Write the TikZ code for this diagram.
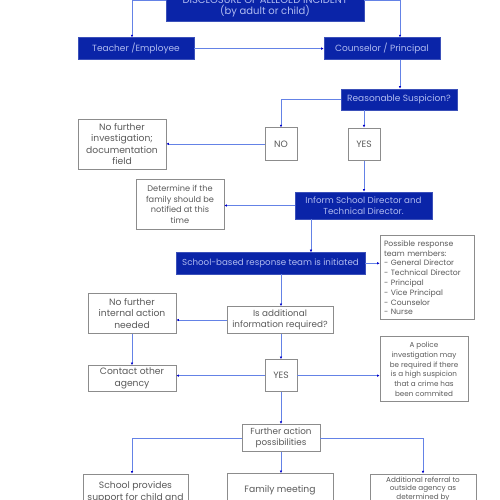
\documentclass[tikz,border=0pt]{standalone}
\usepackage{fontspec}
\setmainfont{Poppins}
\usetikzlibrary{arrows.meta,calc}
\definecolor{fillblue}{HTML}{0A24A8}
\definecolor{txtblue}{HTML}{B0BBF0}
\definecolor{linkblue}{HTML}{6482E6}
\definecolor{grayline}{HTML}{8C8C8C}
\definecolor{graytxt}{HTML}{5A5A5A}
\tikzset{
  bbox/.style={draw=fillblue!80!white, fill=fillblue, text=txtblue, font=\fontsize{9}{11}\selectfont, align=center, inner sep=1pt, line width=0.6pt},
  gbox/.style={draw=grayline, fill=white, text=graytxt, font=\fontsize{9.2}{11.6}\selectfont, align=center, inner sep=1pt, line width=0.7pt},
  sbox/.style={gbox, font=\fontsize{8.2}{10.6}\selectfont},
  mbox/.style={gbox, font=\fontsize{7.7}{9.8}\selectfont},
  tbox/.style={gbox, font=\fontsize{7.2}{9.8}\selectfont},
  conn/.style={draw=linkblue, line width=0.6pt, -{Latex[length=2.6pt,width=2.6pt,color=blue!80!black]}},
}
\begin{document}
\begin{tikzpicture}[x=1pt,y=-1pt]
\useasboundingbox (0,0) rectangle (500,500);
\fill[white] (0,0) rectangle (500,500);
\clip (0,0) rectangle (500,500);
% nodes
\node[bbox, minimum width=198, minimum height=30, font=\fontsize{10}{11.5}\selectfont] (top) at (265,6.6) {DISCLOSURE OF ALLEGED INCIDENT\\(by adult or child)};
\node[bbox, minimum width=116, minimum height=21.8] (teacher) at (136,48.6) {Teacher /Employee};
\node[bbox, minimum width=116, minimum height=21.8] (couns) at (382,48.6) {Counselor / Principal};
\node[bbox, minimum width=116, minimum height=21] (rs) at (399,99.5) {Reasonable Suspicion?};
\node[gbox, minimum width=32, minimum height=32.3] (no1) at (281,143.9) {NO};
\node[gbox, minimum width=32, minimum height=32.3] (yes1) at (364,144) {YES};
\node[gbox, minimum width=88, minimum height=50] (nfi) at (122,144) {No further\\investigation;\\documentation\\field};
\node[bbox, minimum width=137, minimum height=27, font=\fontsize{8.7}{10.6}\selectfont] (inform) at (363.5,205.5) {Inform School Director and\\Technical Director.};
\node[sbox, minimum width=88, minimum height=49.5] (det) at (180,204.3) {Determine if the\\family should be\\notified at this\\time};
\node[bbox, minimum width=189, minimum height=21.5, font=\fontsize{8.7}{10.6}\selectfont] (sbr) at (270.5,263.3) {School-based response team is initiated};
\node[mbox, minimum width=94, minimum height=84, align=left, text width=86] (poss) at (427,277.7) {Possible response\\team members:\\- General Director\\- Technical Director\\- Principal\\- Vice Principal\\- Counselor\\- Nurse};
\node[gbox, minimum width=106, minimum height=27, font=\fontsize{8.8}{11}\selectfont] (isadd) at (280,320) {Is additional\\information required?};
\node[gbox, minimum width=88, minimum height=40.5] (nfin) at (132,313.3) {No further\\internal action\\needed};
\node[gbox, minimum width=88, minimum height=26.2] (contact) at (132,378.6) {Contact other\\agency};
\node[gbox, minimum width=32, minimum height=32.2] (yes2) at (281,375.6) {YES};
\node[tbox, minimum width=88, minimum height=65] (police) at (424,369.2) {A police\\investigation may\\be required if there\\is a high suspicion\\that a crime has\\been commited};
\node[gbox, minimum width=78, minimum height=27.4, font=\fontsize{8.8}{11}\selectfont] (fa) at (281,438) {Further action\\possibilities};
\node[gbox, minimum width=105, minimum height=46] (sp) at (135.5,497) {School provides\\support for child and\\\mbox{}};
\node[gbox, minimum width=106, minimum height=33] (fm) at (280,490) {Family meeting};
\node[tbox, minimum width=106, minimum height=46, anchor=north, font=\fontsize{7.2}{8.8}\selectfont] (ar) at (423,473.5) {Additional referral to\\outside agency as\\determined by\\\mbox{}\\\mbox{}};
% helper coordinates
\coordinate (xl) at (132,0);
\coordinate (xr) at (400,0);
\coordinate (xm) at (311,0);
\coordinate (xsp) at (132,0);
\coordinate (xar) at (423,0);
% connectors
\draw[conn] ([yshift=6.6pt]top.west) -| (teacher.north -| xl);
\draw[conn] ([yshift=6.6pt]top.east) -| (couns.north -| xr);
\draw[conn] (teacher.east) -- (couns.west);
\draw[conn] (couns.south -| xr) -- (rs.north -| xr);
\draw[conn] (rs.west) -| (no1.north);
\draw[conn] (rs.south -| yes1.north) -- (yes1.north);
\draw[conn] (no1.west) -- (no1.west -| nfi.east);
\draw[conn] (yes1.south) -- (yes1.south |- inform.north);
\draw[conn] (inform.west) -- (inform.west -| det.east);
\draw[conn] (inform.south -| xm) -- (sbr.north -| xm);
\draw[conn] (sbr.east) -- (sbr.east -| poss.west);
\draw[conn] (sbr.south -| yes2.north) -- (isadd.north -| yes2.north);
\draw[conn] (isadd.west) -- (isadd.west -| nfin.east);
\draw[conn] (nfin.south) -- (contact.north);
\draw[conn] (isadd.south -| yes2.north) -- (yes2.north);
\draw[conn] (yes2.west) -- (yes2.west -| contact.east);
\draw[conn] (yes2.east) -- (yes2.east -| police.west);
\draw[conn] (yes2.south) -- (fa.north);
\draw[conn] (fa.west) -| (sp.north -| xsp);
\draw[conn] (fa.south) -- (fa.south |- fm.north);
\draw[conn] (fa.east) -| (ar.north -| xar);
\end{tikzpicture}
\end{document}
